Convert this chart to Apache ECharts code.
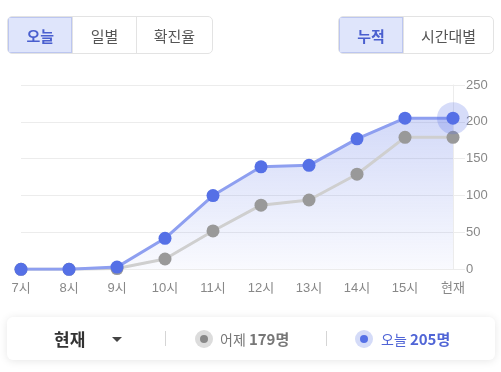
<!DOCTYPE html>
<html><head><meta charset="utf-8">
<script src="https://cdn.jsdelivr.net/npm/echarts@6/dist/echarts.min.js"></script>
<style>
html,body{margin:0;padding:0;background:#fff;width:501px;height:372px;overflow:hidden;font-family:"Noto Sans CJK KR","Noto Sans",sans-serif;}
#chart{position:absolute;left:0;top:0;width:501px;height:372px;}
.grp{position:absolute;top:16px;height:38px;border:1px solid #e3e3e3;border-radius:5px;box-sizing:border-box;display:flex;overflow:hidden;background:#fff;}
.grp div{height:100%;display:flex;align-items:center;justify-content:center;font-size:15px;color:#555;box-sizing:border-box;border-left:1px solid #e3e3e3;}
.grp div:first-child{border-left:none;}
.grp div.on{background:#dfe5fb;color:#4a5fcf;font-weight:bold;box-shadow:inset 0 0 0 1px #bcc6f0;}
#card{position:absolute;left:7px;top:317px;width:488px;height:43px;background:#fff;border-radius:6px;box-shadow:0 1px 8px rgba(0,0,0,0.10);}
.t{position:absolute;top:0;height:43px;line-height:43px;white-space:nowrap;}
.sep{position:absolute;top:14px;width:1px;height:15px;background:#d5d5d5;}
</style></head>
<body>
<div id="chart"></div>
<div class="grp" style="left:7px;width:206px;">
  <div class="on" style="width:65px;">오늘</div>
  <div style="width:64px;">일별</div>
  <div style="width:77px;">확진율</div>
</div>
<div class="grp" style="left:338px;width:156px;">
  <div class="on" style="width:65px;">누적</div>
  <div style="width:91px;">시간대별</div>
</div>
<div id="card">
  <div class="t" style="left:47px;font-size:17px;font-weight:bold;color:#333;">현재</div>
  <div style="position:absolute;left:105px;top:20px;width:0;height:0;border-left:5px solid transparent;border-right:5px solid transparent;border-top:5px solid #444;"></div>
  <div class="sep" style="left:158px;"></div>
  <div style="position:absolute;left:188px;top:13px;width:18px;height:18px;border-radius:50%;background:#dcdcdc;"></div>
  <div style="position:absolute;left:193px;top:18px;width:8px;height:8px;border-radius:50%;background:#888;"></div>
  <div class="t" style="left:213px;font-size:14px;color:#777;">어제 <b id="yv" style="font-size:15px;color:#777;"></b></div>
  <div class="sep" style="left:319px;"></div>
  <div style="position:absolute;left:348px;top:13px;width:18px;height:18px;border-radius:50%;background:#d4dbf8;"></div>
  <div style="position:absolute;left:353px;top:18px;width:8px;height:8px;border-radius:50%;background:#5570e6;"></div>
  <div class="t" style="left:374px;font-size:14px;color:#5065d6;">오늘 <b id="tv" style="font-size:15px;color:#5065d6;"></b></div>
</div>
<script>
var categories = ['7시','8시','9시','10시','11시','12시','13시','14시','15시','현재'];
var today = [0, 0, 3, 42, 100, 139, 141, 177, 205, 205];
var yesterday = [0, 0, 1, 14, 52, 87, 94, 129, 179, 179];
var yTicks = [0, 50, 100, 150, 200, 250];

document.getElementById('yv').textContent = yesterday[yesterday.length-1] + '명';
document.getElementById('tv').textContent = today[today.length-1] + '명';

var chart = echarts.init(document.getElementById('chart'), null, {renderer:'canvas'});
var last = categories.length - 1;
var font = '"Liberation Sans","Noto Sans CJK KR",sans-serif';
chart.setOption({
  animation:false,
  grid:{left:21, right:48, top:85, bottom:102.7, containLabel:false},
  xAxis:{type:'category', data:categories, boundaryGap:false,
    axisLine:{show:false}, axisTick:{show:false},
    axisLabel:{color:'#888', fontSize:13, margin:13, fontFamily:font},
    splitLine:{show:false}},
  yAxis:{type:'value', position:'right', min:yTicks[0], max:yTicks[yTicks.length-1], interval:50,
    axisLine:{show:true, lineStyle:{color:'#ececec'}},
    axisTick:{show:true, length:12, lineStyle:{color:'#ececec'}},
    axisLabel:{color:'#888', fontSize:13, margin:13, fontFamily:font},
    splitLine:{show:true, lineStyle:{color:'#ececec'}}},
  series:[
    {type:'line', data:today, symbol:'none', lineStyle:{width:0}, z:1,
      areaStyle:{color:new echarts.graphic.LinearGradient(0,0,0,1,[
        {offset:0, color:'rgba(90,115,230,0.38)'},
        {offset:1, color:'rgba(90,115,230,0.05)'}])}},
    {type:'line', data:yesterday, symbol:'circle', symbolSize:13, z:2,
      lineStyle:{color:'#cfcfcf', width:3},
      itemStyle:{color:'#999999'}},
    {type:'line', data:today, symbol:'circle', symbolSize:13, z:3,
      lineStyle:{color:'#8e9ff0', width:3},
      itemStyle:{color:'#5570e6'}},
    {type:'scatter', data:[[categories[last], today[last]]], symbolSize:32, z:4,
      itemStyle:{color:'rgba(85,112,230,0.3)'}, silent:true}
  ]
});
</script>
</body></html>
